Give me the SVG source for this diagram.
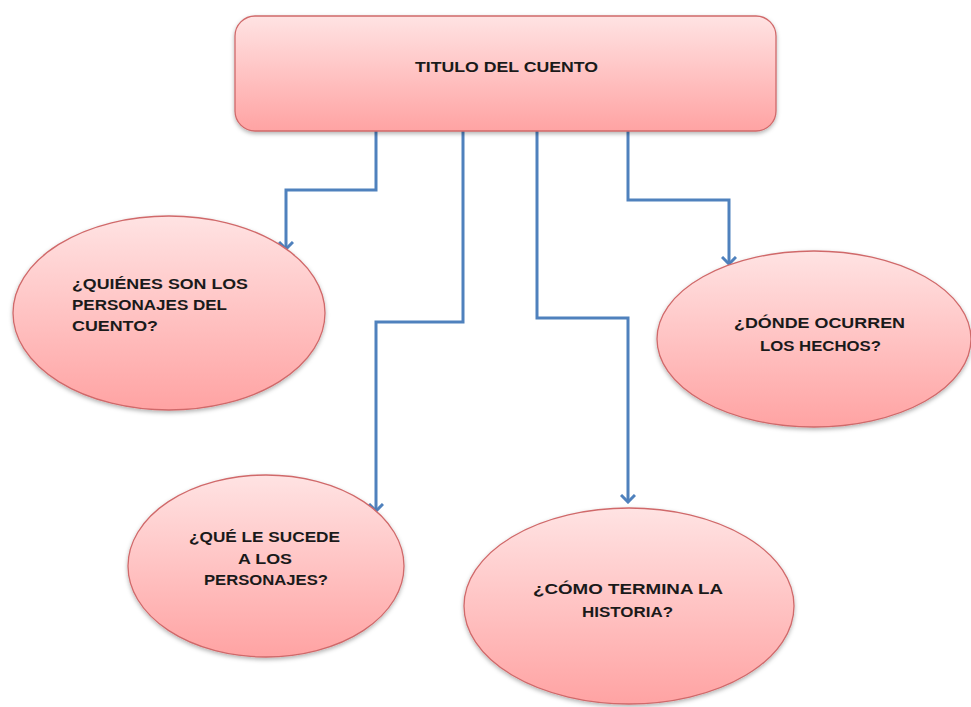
<svg xmlns="http://www.w3.org/2000/svg" width="971" height="707" viewBox="0 0 971 707">
<style>
.node{fill:url(#g);stroke:#D0696A;stroke-width:1.3;filter:url(#sh)}
.t{font-family:"Liberation Sans",Arial,sans-serif;font-weight:bold;font-size:14px;fill:#1a1a1a}
.ln{fill:none;stroke:#4F81BD;stroke-width:3;marker-end:url(#ah)}
</style>
<defs>
<linearGradient id="g" x1="0" y1="0" x2="0" y2="1">
<stop offset="0" stop-color="#FFE3E3"/>
<stop offset="1" stop-color="#FFA3A3"/>
</linearGradient>
<filter id="sh" x="-10%" y="-10%" width="120%" height="130%">
<feDropShadow dx="0" dy="2" stdDeviation="2" flood-color="#000" flood-opacity="0.3"/>
</filter>
<marker id="ah" markerWidth="10" markerHeight="16" refX="8" refY="8" orient="auto" markerUnits="userSpaceOnUse" viewBox="0 0 10 16">
<path d="M1,1 L8,8 L1,15" fill="none" stroke="#4F81BD" stroke-width="3"/>
</marker>
</defs>
<g id="connectors">
<path class="ln" d="M376,131 V190 H286 V249"/>
<path class="ln" d="M463,131 V322 H376 V511"/>
<path class="ln" d="M537,131 V318 H628 V502"/>
<path class="ln" d="M628,131 V200 H729 V264"/>
</g>
<g id="titulo">
<rect class="node" x="235" y="16" width="541" height="115" rx="20"/>
<text class="t" x="415" y="72" textLength="183" lengthAdjust="spacingAndGlyphs">TITULO DEL CUENTO</text>
</g>
<g id="personajes">
<ellipse class="node" cx="169" cy="313" rx="156" ry="97"/>
<text class="t" x="72" y="289" textLength="176" lengthAdjust="spacingAndGlyphs">¿QUIÉNES SON LOS</text>
<text class="t" x="72" y="310" textLength="155" lengthAdjust="spacingAndGlyphs">PERSONAJES DEL</text>
<text class="t" x="72" y="331" textLength="86" lengthAdjust="spacingAndGlyphs">CUENTO?</text>
</g>
<g id="donde">
<ellipse class="node" cx="814" cy="339" rx="157" ry="88"/>
<text class="t" x="734" y="328" textLength="171" lengthAdjust="spacingAndGlyphs">¿DÓNDE OCURREN</text>
<text class="t" x="760" y="351" textLength="121" lengthAdjust="spacingAndGlyphs">LOS HECHOS?</text>
</g>
<g id="sucede">
<ellipse class="node" cx="266" cy="566" rx="138" ry="91"/>
<text class="t" x="189" y="542" textLength="151" lengthAdjust="spacingAndGlyphs">¿QUÉ LE SUCEDE</text>
<text class="t" x="238" y="564" textLength="54" lengthAdjust="spacingAndGlyphs">A LOS</text>
<text class="t" x="204" y="585" textLength="124" lengthAdjust="spacingAndGlyphs">PERSONAJES?</text>
</g>
<g id="termina">
<ellipse class="node" cx="629" cy="606" rx="165" ry="98"/>
<text class="t" x="533" y="594" textLength="190" lengthAdjust="spacingAndGlyphs">¿CÓMO TERMINA LA</text>
<text class="t" x="582" y="617" textLength="91" lengthAdjust="spacingAndGlyphs">HISTORIA?</text>
</g>
</svg>
